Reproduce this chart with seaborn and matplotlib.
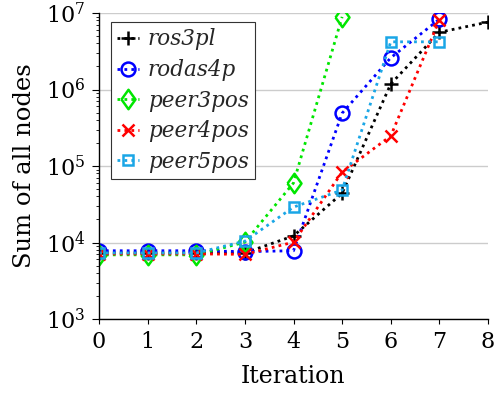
import numpy as np
import pandas as pd
import seaborn as sns
import matplotlib
matplotlib.use("Agg")
import matplotlib.pyplot as plt
from matplotlib.ticker import LogLocator

iters_ros3pl = [0, 1, 2, 3, 4, 5, 6, 7, 8]
ros3pl = [7300, 7300, 7300, 7300, 12200, 44000, 1.18e6, 5.6e6, 7.6e6]
iters_rodas4p = [0, 1, 2, 3, 4, 5, 6, 7]
rodas4p = [7800, 7800, 7800, 7600, 7800, 4.9e5, 2.6e6, 8.3e6]
iters_peer3pos = [0, 1, 2, 3, 4, 5]
peer3pos = [6900, 6900, 6900, 10100, 60000, 8.9e6]
iters_peer4pos = [0, 1, 2, 3, 4, 5, 6, 7]
peer4pos = [7100, 7100, 7100, 7000, 10100, 83000, 2.47e5, 8.1e6]
iters_peer5pos = [0, 1, 2, 3, 4, 5, 6, 7]
peer5pos = [7300, 7300, 7300, 10400, 29000, 48500, 4.2e6, 4.2e6]

names = ["ros3pl", "rodas4p", "peer3pos", "peer4pos", "peer5pos"]
xs = [iters_ros3pl, iters_rodas4p, iters_peer3pos, iters_peer4pos, iters_peer5pos]
ys = [ros3pl, rodas4p, peer3pos, peer4pos, peer5pos]
colors = ["black", "#0000ff", "#00e600", "#ff0000", "#1aa6e6"]
diamond = [(-0.72, 0), (0, 1), (0.72, 0), (0, -1), (-0.72, 0)]
markers = ["+", "o", diamond, "x", "s"]
msizes = [10, 10, 14, 8, 7]

sns.set_theme(style="white")
plt.rcParams["font.family"] = ["DejaVu Serif"]
plt.rcParams["mathtext.fontset"] = "dejavuserif"

fig = plt.figure(figsize=(4.97, 3.94), dpi=100)
ax = fig.add_axes([99/497, 75/394, 389/497, 306/394])

for name, x, y, c, m, ms in zip(names, xs, ys, colors, markers, msizes):
    df = pd.DataFrame({"Iteration": x, "value": y})
    sns.lineplot(data=df, x="Iteration", y="value", ax=ax, color=c,
                 linestyle=(0, (1, 1.5)), linewidth=2, marker=m,
                 markersize=ms, markerfacecolor="none", markeredgecolor=c,
                 markeredgewidth=1.8, label=name)

ax.set_yscale("log")
ax.set_xlim(0, 8)
ax.set_ylim(1e3, 1e7)
ax.set_xticks(range(9))
ax.yaxis.set_major_locator(LogLocator(base=10, numticks=10))
ax.yaxis.set_minor_locator(LogLocator(base=10, subs=np.arange(2, 10), numticks=20))
ax.tick_params(axis="both", which="both", direction="out", labelsize=16, colors="black")
ax.tick_params(axis="y", which="major", length=5, width=0.8, pad=5, left=True)
ax.tick_params(axis="y", which="minor", length=2.5, width=0.6, left=True)
ax.tick_params(axis="x", which="major", length=3.5, width=0.8, pad=5, bottom=True)
ax.grid(True, axis="y", which="major", color="#cccccc", linewidth=1)
for s in ["top", "right"]:
    ax.spines[s].set_visible(False)
for s in ["left", "bottom"]:
    ax.spines[s].set_color("black")
    ax.spines[s].set_linewidth(1)
ax.set_xlabel("Iteration", fontsize=17, color="black", labelpad=9)
ax.set_ylabel("Sum of all nodes", fontsize=17.5, color="black", labelpad=7)

leg = ax.legend(loc="upper left", bbox_to_anchor=(12/389, 297/306),
                borderaxespad=0, prop={"style": "italic", "size": 15.5},
                handlelength=1.0, handletextpad=0.4, borderpad=0.3,
                labelspacing=0.4, fancybox=False, framealpha=1,
                edgecolor="#333333")
leg.get_frame().set_linewidth(0.8)

fig.savefig("out.png", dpi=100)
